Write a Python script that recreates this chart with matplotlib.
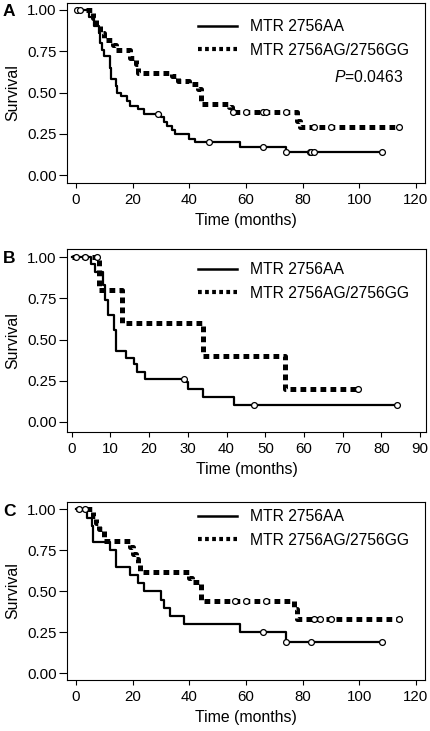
import matplotlib
matplotlib.use('Agg')
import matplotlib.pyplot as plt
from matplotlib.lines import Line2D
import numpy as np

plt.rcParams['font.family'] = ['Liberation Sans', 'DejaVu Sans']
plt.rcParams['mathtext.fontset'] = 'custom'
plt.rcParams['mathtext.it'] = 'Liberation Sans:italic'
plt.rcParams['mathtext.rm'] = 'Liberation Sans'

legend_labels = ['MTR 2756AA', 'MTR 2756AG/2756GG']
panel_letters = ['A', 'B', 'C']

# Panel A
a_aa_t = [4.7, 6.5, 8, 8.5, 9, 10, 12, 12.5, 14, 14.5, 16, 18, 19, 22, 24, 30, 31, 32, 34, 35, 40, 42, 58, 74]
a_aa_s = [0.96, 0.90, 0.86, 0.80, 0.76, 0.72, 0.65, 0.58, 0.54, 0.50, 0.48, 0.45, 0.42, 0.40, 0.37, 0.35, 0.32, 0.30, 0.27, 0.25, 0.22, 0.20, 0.17, 0.14]
a_aa_c = [29, 47, 66, 74, 82.5, 83, 84, 108]
a_ag_t = [6, 7, 8.5, 10, 13, 14, 19, 21, 22, 34, 36, 40, 43, 44, 54, 55, 78, 79]
a_ag_s = [0.95, 0.90, 0.86, 0.82, 0.79, 0.76, 0.71, 0.67, 0.62, 0.60, 0.57, 0.55, 0.52, 0.43, 0.41, 0.38, 0.33, 0.29]
a_ag_c = [0.5, 1.5, 55.5, 60, 66, 67, 74, 84, 90, 114]

# Panel B
b_aa_t = [5, 6, 8, 8.5, 9.5, 11, 11.5, 14, 16, 17, 19, 29.5, 30, 34, 42]
b_aa_s = [0.96, 0.91, 0.83, 0.74, 0.65, 0.56, 0.43, 0.39, 0.35, 0.30, 0.26, 0.24, 0.20, 0.15, 0.10]
b_aa_c = [29, 47, 84]
b_ag_t = [7, 13, 34, 55]
b_ag_s = [0.80, 0.60, 0.40, 0.20]
b_ag_c = [1, 3.5, 6.5, 74]

# Panel C
c_aa_t = [4, 5.5, 6, 12, 14, 19, 22, 24, 30, 31, 33, 38, 58, 74]
c_aa_s = [0.95, 0.90, 0.80, 0.75, 0.65, 0.60, 0.55, 0.50, 0.45, 0.40, 0.35, 0.30, 0.25, 0.19]
c_aa_c = [66, 74, 83, 108]
c_ag_t = [6, 7, 8, 10, 19, 20, 21, 22, 22.5, 40, 41, 44, 77, 78]
c_ag_s = [0.96, 0.92, 0.88, 0.81, 0.77, 0.73, 0.70, 0.66, 0.62, 0.58, 0.56, 0.44, 0.39, 0.33]
c_ag_c = [1, 3, 56, 60, 67, 84, 86, 90, 114]

panels = [
    (a_aa_t, a_aa_s, a_aa_c, a_ag_t, a_ag_s, a_ag_c),
    (b_aa_t, b_aa_s, b_aa_c, b_ag_t, b_ag_s, b_ag_c),
    (c_aa_t, c_aa_s, c_aa_c, c_ag_t, c_ag_s, c_ag_c),
]
xticks_list = [np.arange(0, 121, 20), np.arange(0, 91, 10), np.arange(0, 121, 20)]
xlims = [(-3.2, 123.2), (-1.2, 91.5), (-3.2, 123.2)]
ylims = [(-0.048, 1.042), (-0.062, 1.05), (-0.04, 1.045)]

W, H = 431, 731
# axes boxes in pixels: left, top, right, bottom
boxes = [(67, 3, 425, 183), (67, 249, 426, 432), (67, 502, 425, 680)]
legend_top = [19, 262, 509]

DASH = (1.15, 0.85)


def km_curve(ax, times, surv, cens, **kw):
    end = max(max(times), max(cens))
    xs = [0] + list(times) + [end]
    ys = [1.0] + list(surv) + [surv[-1]]
    ln, = ax.step(xs, ys, where='post', color='black', **kw)
    # censor marks
    t_arr = np.array(times)
    s_arr = np.array(surv)
    cy = []
    for c in cens:
        idx = np.searchsorted(t_arr, c, side='right') - 1
        cy.append(1.0 if idx < 0 else s_arr[idx])
    ax.plot(cens, cy, 'o', ms=4.2, mfc='white', mec='black', mew=0.9, zorder=5)
    return ln


fig = plt.figure(figsize=(W / 100, H / 100), dpi=100)
for i, (aa_t, aa_s, aa_c, ag_t, ag_s, ag_c) in enumerate(panels):
    l, t, r, b = boxes[i]
    ax = fig.add_axes([l / W, 1 - b / H, (r - l) / W, (b - t) / H])
    km_curve(ax, aa_t, aa_s, aa_c, lw=1.6)
    km_curve(ax, ag_t, ag_s, ag_c, lw=3.6, dashes=DASH)
    ax.set_xlim(*xlims[i])
    ax.set_ylim(*ylims[i])
    ax.set_xticks(xticks_list[i])
    ax.set_yticks([0, 0.25, 0.5, 0.75, 1.0])
    ax.set_yticklabels(['0.00', '0.25', '0.50', '0.75', '1.00'])
    ax.tick_params(axis='x', labelsize=10.8, length=3.3, width=0.8, pad=4)
    ax.tick_params(axis='y', labelsize=10.8, length=5.5, width=0.8, pad=2)
    ax.set_xlabel('Time (months)', fontsize=11.4, labelpad=4)
    ax.set_ylabel('Survival', fontsize=11.4, labelpad=5)
    for sp in ax.spines.values():
        sp.set_linewidth(0.8)
    handles = [Line2D([], [], color='black', lw=1.8),
               Line2D([], [], color='black', lw=3.0, dashes=(0.9, 0.8))]
    ax_x = (198 - l) / (r - l)
    ax_y = (b - legend_top[i]) / (b - t)
    ax.legend(handles, legend_labels, loc='upper left', bbox_to_anchor=(ax_x, ax_y),
              frameon=False, fontsize=11.3, handlelength=2.5, handletextpad=0.8,
              labelspacing=0.55, borderaxespad=0, borderpad=0)
    if i == 0:
        ax.text((403 - l) / (r - l), (b - 77) / (b - t), r'$\it{P}$=0.0463',
                transform=ax.transAxes, ha='right', va='center', fontsize=11.3)
    fig.text(3 / W, 1 - (t + 9) / H, panel_letters[i], fontsize=12.5,
             fontweight='bold', ha='left', va='center')

fig.savefig('out.png', dpi=100)
